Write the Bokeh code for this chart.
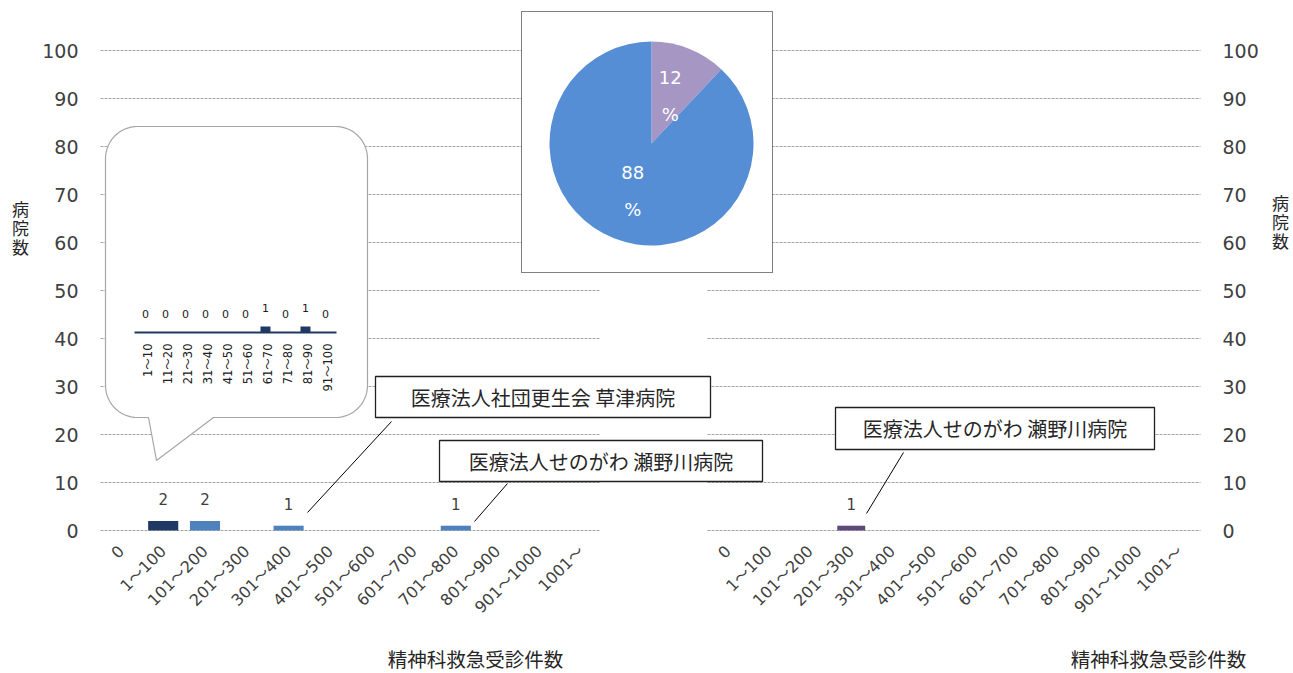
import numpy as np
from bokeh.plotting import figure
from bokeh.models import Range1d, LinearAxis, FixedTicker, Label
from bokeh.core.properties import value
from bokeh.embed import file_html
from bokeh.resources import INLINE

# ---------------- data ----------------
categories = ["0", "1～100", "101～200", "201～300", "301～400", "401～500",
              "501～600", "601～700", "701～800", "801～900", "901～1000", "1001～"]
left_counts = [0, 2, 2, 0, 1, 0, 0, 0, 1, 0, 0, 0]
right_counts = [0, 0, 0, 1, 0, 0, 0, 0, 0, 0, 0, 0]
highlight_index = 1  # bar that the speech bubble breaks down

inset_categories = ["1～10", "11～20", "21～30", "31～40", "41～50",
                    "51～60", "61～70", "71～80", "81～90", "91～100"]
inset_counts = [0, 0, 0, 0, 0, 0, 1, 0, 1, 0]

pie_shares = [12, 88]

y_ticks = [0, 10, 20, 30, 40, 50, 60, 70, 80, 90, 100]

axis_title = "精神科救急受診件数"
y_title = "病院数"
callout_texts = ["医療法人社団更生会 草津病院",
                 "医療法人せのがわ 瀬野川病院",
                 "医療法人せのがわ 瀬野川病院"]

# ---------------- layout (page pixels) ----------------
W, H = 1293, 673
AL, AR, BASE = 100, 1200, 530        # left / right value axes, zero line
L0, LSTEP = 120.9, 41.8              # left chart category centres
R0, RSTEP = 727.5, 41.08             # right chart category centres
PX = 4.8                             # px per hospital
PIE_CX, PIE_CY, PIE_R = 651, 143, 102
IN0, INSTEP, INBASE, INUNIT = 145, 20, 332, 6

FONT_NUM = "DejaVu Sans, Noto Sans CJK JP"
FONT_JP = "Noto Sans CJK JP"
TXT = "#404040"
GRID = "#A6A6A6"
DARK = "#1F3864"
BLUE = "#4F81BD"
PURPLE = "#5F497A"
PIE_COLORS = ["#A696C3", "#558ED5"]

p = figure(width=W, height=H, output_backend="svg", toolbar_location=None,
           x_range=Range1d((0 - L0) / LSTEP, (W - L0) / LSTEP),
           y_range=Range1d((BASE - H) / PX, BASE / PX),
           min_border=0, min_border_left=0, min_border_right=0,
           min_border_top=0, min_border_bottom=0,
           background_fill_color="white", border_fill_color="white")
p.outline_line_color = None
p.xgrid.visible = False
p.ygrid.visible = False

p.extra_x_ranges = {
    "img_x": Range1d(0, W),
    "rx": Range1d((0 - R0) / RSTEP, (W - R0) / RSTEP),
    "pie_x": Range1d((0 - PIE_CX) / PIE_R, (W - PIE_CX) / PIE_R),
    "ix": Range1d((0 - IN0) / INSTEP, (W - IN0) / INSTEP),
}
p.extra_y_ranges = {
    "img_y": Range1d(H, 0),
    "pie_y": Range1d(-(H - PIE_CY) / PIE_R, PIE_CY / PIE_R),
    "iy": Range1d((INBASE - H) / INUNIT, INBASE / INUNIT),
}

def style_axis(ax, size, standoff):
    ax.major_label_text_font = FONT_NUM
    ax.major_label_text_font_size = size
    ax.major_label_text_color = TXT
    ax.major_label_standoff = standoff
    ax.axis_line_color = None
    ax.major_tick_line_color = None
    ax.minor_tick_line_color = None
    ax.major_tick_out = 0
    ax.major_tick_in = 0
    ax.minor_tick_out = 0
    ax.minor_tick_in = 0

# ---------------- axes ----------------
n = len(categories)
left_ticks = [float(i) for i in range(n)]
right_ticks = [round((R0 + RSTEP * i - L0) / LSTEP, 6) for i in range(n)]
overrides = {}
for t, c in zip(left_ticks, categories):
    overrides[t] = c
for t, c in zip(right_ticks, categories):
    overrides[t] = c

xa = p.xaxis[0]
xa.ticker = FixedTicker(ticks=left_ticks + right_ticks)
xa.major_label_overrides = overrides
xa.major_label_orientation = np.pi / 4
xa.fixed_location = 0
style_axis(xa, "16px", 18)

ya = p.yaxis[0]
ya.ticker = FixedTicker(ticks=y_ticks)
ya.fixed_location = (AL - L0) / LSTEP
style_axis(ya, "19px", 22)

ra = LinearAxis(ticker=FixedTicker(ticks=y_ticks))
ra.fixed_location = (AR - L0) / LSTEP
style_axis(ra, "19px", 22)
p.add_layout(ra, "right")

# ---------------- gridlines (two plot areas) ----------------
gx0 = [AL] * len(y_ticks) + [707] * len(y_ticks)
gx1 = [600] * len(y_ticks) + [AR] * len(y_ticks)
gy = [float(v) for v in y_ticks] * 2
p.segment(x0=gx0, x1=gx1, y0=gy, y1=gy, x_range_name="img_x",
          line_color=GRID, line_width=1, line_dash="3 1")

# ---------------- bars ----------------
xs = list(range(n))
left_colors = [DARK if i == highlight_index else BLUE for i in xs]
p.vbar(x=xs, top=left_counts, bottom=0, width=0.72, fill_color=left_colors,
       line_color=None)
p.vbar(x=xs, top=right_counts, bottom=0, width=0.68, fill_color=PURPLE,
       line_color=None, x_range_name="rx")

lx = [i for i in xs if left_counts[i] > 0]
p.text(x=lx, y=[left_counts[i] for i in lx], text=[str(left_counts[i]) for i in lx],
       text_font=value("DejaVu Sans"), text_font_size="15px", text_color=TXT,
       text_align="center", text_baseline="middle", y_offset=-22)
rxs = [i for i in xs if right_counts[i] > 0]
p.text(x=rxs, y=[right_counts[i] for i in rxs], text=[str(right_counts[i]) for i in rxs],
       text_font=value("DejaVu Sans"), text_font_size="15px", text_color=TXT,
       text_align="center", text_baseline="middle", y_offset=-22, x_range_name="rx")

# ---------------- pie ----------------
p.quad(left=521, right=772, top=11, bottom=272, x_range_name="img_x",
       y_range_name="img_y", fill_color="white", line_color="black",
       line_width=1, line_dash="1 1")
total = float(sum(pie_shares))
fr = np.cumsum([0] + pie_shares) / total
starts = [np.pi / 2 - 2 * np.pi * fr[k + 1] for k in range(len(pie_shares))]
ends = [np.pi / 2 - 2 * np.pi * fr[k] for k in range(len(pie_shares))]
p.wedge(x=0, y=0, radius=1, start_angle=starts, end_angle=ends,
        fill_color=PIE_COLORS, line_color=None,
        x_range_name="pie_x", y_range_name="pie_y")
mids = [(s + e) / 2 for s, e in zip(starts, ends)]
p.text(x=[0.5 * np.cos(m) for m in mids], y=[0.5 * np.sin(m) for m in mids],
       text=[f"{v}\n%" for v in pie_shares], text_color="white",
       text_font=value("DejaVu Sans"), text_font_size="18px",
       text_align="center", text_baseline="middle", text_line_height=1.76,
       x_range_name="pie_x", y_range_name="pie_y")

# ---------------- speech bubble ----------------
bx0, by0, bx1, by1, br = 105, 126, 367, 417, 32
tail = [(213, 417), (156, 460), (148, 417)]
def arc(cx, cy, a0, a1):
    t = np.radians(np.linspace(a0, a1, 16))
    return list(cx + br * np.cos(t)), list(cy + br * np.sin(t))
px, py = [], []
for seg in [arc(bx1 - br, by0 + br, -90, 0), arc(bx1 - br, by1 - br, 0, 90)]:
    px += seg[0]; py += seg[1]
for tx, ty in tail:
    px.append(tx); py.append(ty)
for seg in [arc(bx0 + br, by1 - br, 90, 180), arc(bx0 + br, by0 + br, 180, 270)]:
    px += seg[0]; py += seg[1]
p.patch(x=px, y=py, fill_color="white", line_color="#A6A6A6", line_width=1.2,
        x_range_name="img_x", y_range_name="img_y")

# ---------------- inset chart ----------------
ni = len(inset_categories)
ixs = list(range(ni))
p.line(x=[-0.55, ni - 1 + 0.55], y=[0, 0], line_color=DARK, line_width=2,
       x_range_name="ix", y_range_name="iy")
p.vbar(x=ixs, top=inset_counts, bottom=0, width=0.5, fill_color=DARK,
       line_color=None, x_range_name="ix", y_range_name="iy")
p.text(x=ixs, y=inset_counts, text=[str(v) for v in inset_counts],
       text_font=value("DejaVu Sans"), text_font_size="11px", text_color="#202020",
       text_align="center", text_baseline="middle", y_offset=-19,
       x_range_name="ix", y_range_name="iy")
p.text(x=ixs, y=[0] * ni, text=inset_categories, angle=np.pi / 2,
       text_font=value(FONT_NUM), text_font_size="11.5px", text_color="#202020",
       text_align="right", text_baseline="middle", y_offset=11, x_offset=2,
       x_range_name="ix", y_range_name="iy")

# ---------------- callouts ----------------
boxes = [(375, 376, 710, 417), (439, 440, 762, 481), (835, 407, 1154, 449)]
leaders = [((391, 421), (307, 512)), ((507, 483), (474, 521)), ((903, 452), (866, 513))]
p.segment(x0=[a[0][0] for a in leaders], y0=[a[0][1] for a in leaders],
          x1=[a[1][0] for a in leaders], y1=[a[1][1] for a in leaders],
          line_color="black", line_width=1,
          x_range_name="img_x", y_range_name="img_y")
p.quad(left=[b[0] for b in boxes], right=[b[2] for b in boxes],
       top=[b[1] for b in boxes], bottom=[b[3] for b in boxes],
       fill_color="white", line_color="#202020", line_width=1.3,
       x_range_name="img_x", y_range_name="img_y")
p.text(x=[(b[0] + b[2]) / 2 for b in boxes], y=[(b[1] + b[3]) / 2 for b in boxes],
       text=callout_texts, text_font=value(FONT_JP), text_font_size="20px",
       text_color="#262626", text_align="center", text_baseline="middle",
       x_range_name="img_x", y_range_name="img_y")

# ---------------- axis titles ----------------
for cx in (475, 1158):
    p.add_layout(Label(x=cx, y=658, text=axis_title, x_range_name="img_x",
                       y_range_name="img_y", text_font=FONT_JP,
                       text_font_size="19.5px", text_color="#262626",
                       text_align="center", text_baseline="middle"))
for cx, cy in ((20, 227), (1280, 221)):
    p.add_layout(Label(x=cx, y=cy, text="\n".join(y_title), x_range_name="img_x",
                       y_range_name="img_y", text_font=FONT_JP,
                       text_font_size="17px", text_color="#262626",
                       text_line_height=0.76,
                       text_align="center", text_baseline="middle"))

open("out.html", "w").write(file_html(p, INLINE))
